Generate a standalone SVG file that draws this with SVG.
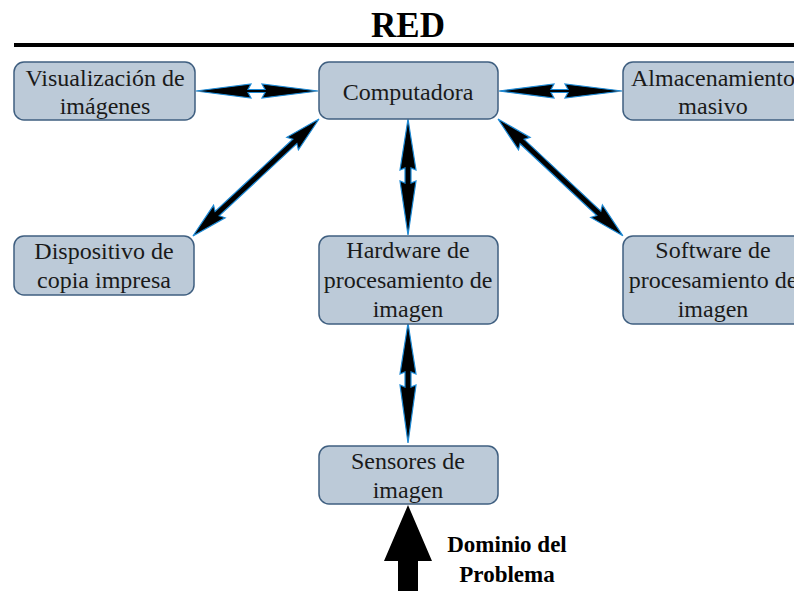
<svg xmlns="http://www.w3.org/2000/svg" width="794" height="591" viewBox="0 0 794 591">
<style>
.box{fill:#bccad8;stroke:#3f5f80;stroke-width:1.5}
.t{font-family:"Liberation Serif","Times New Roman",serif;font-size:24px;fill:#1a1a1a;text-anchor:middle}
.b{font-family:"Liberation Serif","Times New Roman",serif;font-weight:bold;fill:#000;text-anchor:middle}
.arr{fill:#000;stroke:#1d8ad6;stroke-width:1.2;stroke-linejoin:miter}
</style>
<rect width="794" height="591" fill="#fff"/>
<g id="title">
<text class="b" x="408" y="37" font-size="35">RED</text>
<line x1="14" y1="45" x2="794" y2="45" stroke="#000" stroke-width="4"/>
</g>
<g id="connectors">
<polygon class="arr" points="196,91 251,84 248,89.5 265,89.5 262,84 318,91 262,98 265,92.5 248,92.5 251,98"/>
<polygon class="arr" points="499,91 554,84 551,89.5 568,89.5 565,84 622,91 565,98 568,92.5 551,92.5 554,98"/>
<polygon class="arr" points="408,119 416,170 411,168 411,183 416,181 408,235 400,181 405,183 405,168 400,170"/>
<polygon class="arr" points="408,323 416,374 411,372 411,387 416,385 408,443 400,385 405,387 405,372 400,374"/>
<g transform="translate(319,119) rotate(137.12)">
<polygon class="arr" points="0,0 36,-8.5 33,-3 139,-3 136,-8.5 172,0 136,8.5 139,3 33,3 36,8.5"/>
</g>
<g transform="translate(498,119) rotate(43.1)">
<polygon class="arr" points="0,0 36,-8.5 33,-3 138,-3 135,-8.5 171,0 135,8.5 138,3 33,3 36,8.5"/>
</g>
<polygon fill="#000" points="408,505 432,561 418,561 418,591 398,591 398,561 384,561"/>
</g>
<g id="n-visualizacion">
<rect class="box" x="14" y="62" width="181" height="58" rx="10"/>
<text class="t" x="105" y="86">Visualización de</text>
<text class="t" x="105" y="114">imágenes</text>
</g>
<g id="n-computadora">
<rect class="box" x="319" y="62" width="179" height="57" rx="10"/>
<text class="t" x="408" y="100">Computadora</text>
</g>
<g id="n-almacenamiento">
<rect class="box" x="623" y="62" width="182" height="58" rx="10"/>
<text class="t" x="713" y="86">Almacenamiento</text>
<text class="t" x="713" y="114">masivo</text>
</g>
<g id="n-dispositivo">
<rect class="box" x="14" y="236" width="180" height="59" rx="10"/>
<text class="t" x="104" y="259">Dispositivo de</text>
<text class="t" x="104" y="288">copia impresa</text>
</g>
<g id="n-hardware">
<rect class="box" x="319" y="236" width="179" height="88" rx="10"/>
<text class="t" x="408" y="258">Hardware de</text>
<text class="t" x="408" y="288">procesamiento de</text>
<text class="t" x="408" y="317">imagen</text>
</g>
<g id="n-software">
<rect class="box" x="623" y="236" width="182" height="88" rx="10"/>
<text class="t" x="713" y="258">Software de</text>
<text class="t" x="713" y="288">procesamiento de</text>
<text class="t" x="713" y="317">imagen</text>
</g>
<g id="n-sensores">
<rect class="box" x="319" y="446" width="179" height="58" rx="10"/>
<text class="t" x="408" y="469">Sensores de</text>
<text class="t" x="408" y="498">imagen</text>
</g>
<g id="label-dominio">
<text class="b" x="507" y="552" font-size="23">Dominio del</text>
<text class="b" x="507" y="582" font-size="23">Problema</text>
</g>
</svg>
